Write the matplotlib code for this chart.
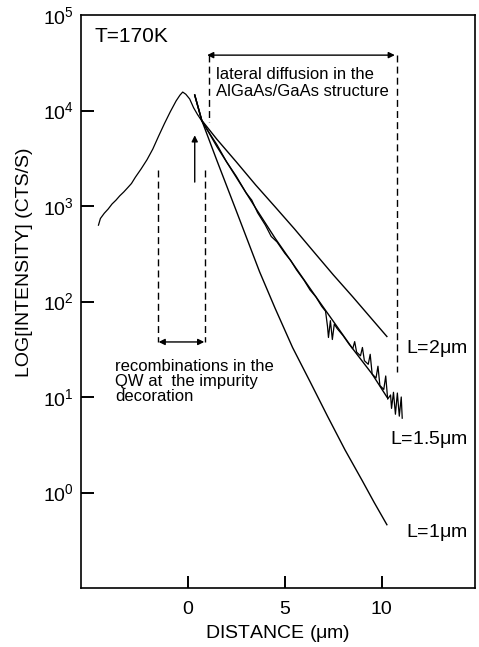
""" plot.py - PL intensity vs distance, T=170K """

import numpy as np
import matplotlib
matplotlib.use("Agg")
import matplotlib.pyplot as plt
import matplotlib.transforms as mtransforms
from matplotlib.ticker import FixedLocator, NullLocator, FixedFormatter

plt.rcParams['font.family'] = ['Liberation Sans', 'DejaVu Sans']

# measured profile (distance in um, intensity in counts/s)
x_meas = [-4.6, -4.5, -4.3, -4.1, -3.9, -3.7, -3.5, -3.3, -3.1, -2.9, -2.7, -2.4,
          -2.1, -1.8, -1.5, -1.2, -0.9, -0.6, -0.4, -0.26, -0.1, 0.1, 0.3, 0.5,
          0.7, 1.0, 1.5, 2.0, 2.5, 3.0, 3.3, 3.6, 4.0, 4.3, 4.6, 5.0, 5.3, 5.6,
          6.0, 6.3, 6.6, 6.9, 7.1, 7.2, 7.25, 7.35, 7.45, 7.55, 7.7, 8.0, 8.3,
          8.5, 8.6, 8.7, 8.9, 9.0, 9.1, 9.3, 9.4, 9.5, 9.7, 9.8, 9.9, 10.1,
          10.2, 10.3, 10.45, 10.5, 10.6, 10.7, 10.8, 10.9, 11.0, 11.05]
y_meas = [6.3e2, 7.4e2, 8.4e2, 9.3e2, 1.05e3, 1.15e3, 1.28e3, 1.4e3, 1.55e3, 1.72e3,
          2.0e3, 2.45e3, 3.05e3, 3.95e3, 5.4e3, 7.3e3, 9.7e3, 1.26e4, 1.45e4, 1.56e4,
          1.48e4, 1.32e4, 1.07e4, 9.1e3, 7.9e3, 6.3e3, 4.4e3, 2.9e3, 2.05e3, 1.38e3,
          1.15e3, 8.5e2, 6.3e2, 4.8e2, 4.2e2, 3.2e2, 2.7e2, 2.15e2, 1.66e2, 1.32e2,
          1.12e2, 8.9e1, 7.9e1, 5.5e1, 4.2e1, 6.3e1, 4.0e1, 5.8e1, 5.2e1, 4.4e1,
          3.6e1, 3.2e1, 3.8e1, 2.95e1, 2.7e1, 3.3e1, 2.4e1, 2.2e1, 2.8e1, 1.74e1,
          1.58e1, 2.1e1, 1.32e1, 1.2e1, 1.66e1, 9.5e0, 1.05e1, 7.6e0, 1.12e1,
          6.6e0, 1.1e1, 6.3e0, 1.0e1, 6.0e0]

# calculated diffusion profiles
x_L2 = [0.36, 0.72, 1.5, 2.5, 3.5, 4.5, 5.5, 6.5, 7.5, 8.5, 9.5, 10.26]
y_L2 = [1.45e4, 7.9e3, 5.0e3, 2.9e3, 1.66e3, 9.8e2, 5.75e2, 3.3e2, 1.9e2, 1.12e2,
        6.5e1, 4.3e1]

x_L15 = [0.36, 0.72, 1.5, 2.5, 3.5, 4.5, 5.5, 6.5, 7.5, 8.5, 9.5, 10.26]
y_L15 = [1.45e4, 7.9e3, 4.2e3, 2.0e3, 9.5e2, 4.6e2, 2.35e2, 1.2e2, 6.2e1, 3.2e1,
         1.74e1, 1.0e1]

x_L1 = [0.36, 0.72, 1.5, 2.5, 3.7, 4.5, 5.4, 6.3, 7.2, 8.1, 9.0, 9.6, 10.26]
y_L1 = [1.45e4, 7.9e3, 3.0e3, 8.9e2, 2.05e2, 8.5e1, 3.3e1, 1.45e1, 6.3e0, 2.8e0,
        1.32e0, 7.9e-1, 4.6e-1]

y_ticks = [1e0, 1e1, 1e2, 1e3, 1e4, 1e5]
y_ticklabels = [r'$\mathregular{10^{%d}}$' % int(np.log10(v)) for v in y_ticks]
x_ticks = [0, 5, 10]

fig = plt.figure(figsize=(4.79, 6.47), dpi=100)
ax = fig.add_axes([81 / 479, 59 / 647, 394 / 479, 573 / 647])

lw = 1.0
ax.plot(x_meas, y_meas, color='k', lw=0.9)
ax.plot(x_L2, y_L2, color='k', lw=lw)
ax.plot(x_L15, y_L15, color='k', lw=lw)
ax.plot(x_L1, y_L1, color='k', lw=lw)

ax.set_yscale('log')
ax.set_xlim(-5.5, 14.8)
ax.set_ylim(1e-1, 1e5)

ax.yaxis.set_major_locator(FixedLocator(y_ticks))
ax.yaxis.set_major_formatter(FixedFormatter(y_ticklabels))
ax.yaxis.set_minor_locator(NullLocator())
ax.xaxis.set_major_locator(FixedLocator(x_ticks))
ax.xaxis.set_major_formatter(FixedFormatter([str(v) for v in x_ticks]))
ax.tick_params(axis='y', direction='in', length=0, labelsize=14,
               pad=5, right=False)
ax.tick_params(axis='x', direction='in', length=0, labelsize=14,
               pad=9, top=False)
for s in ax.spines.values():
    s.set_linewidth(1.2)

# inward tick marks
ytrans = mtransforms.blended_transform_factory(ax.transAxes, ax.transData)
xtrans = mtransforms.blended_transform_factory(ax.transData, ax.transAxes)
for v in y_ticks[:-1]:
    ax.plot([0, 0.032], [v, v], color='k', lw=1.4, transform=ytrans,
            clip_on=False, solid_capstyle='butt')
for v in x_ticks:
    ax.plot([v, v], [0, 0.021], color='k', lw=1.4, transform=xtrans,
            clip_on=False, solid_capstyle='butt')

ax.set_xlabel(r'DISTANCE ($\mathregular{\mu}$m)', fontsize=14, labelpad=4)
fig.text(25 / 479, 1 - 262 / 647, 'LOG[INTENSITY] (CTS/S)', rotation=90,
         fontsize=14, ha='center', va='center')

# annotations
dash = (0, (5, 3))
ax.text(-4.8, 5.9e4, 'T=170K', fontsize=15, va='center')

# lateral diffusion bracket
ax.plot([1.08, 1.08], [3.8e4, 7.6e3], color='k', lw=1, ls=dash)
ax.plot([10.77, 10.77], [3.8e4, 18.3], color='k', lw=1, ls=dash)
ax.annotate('', xy=(10.67, 3.8e4), xytext=(1.0, 3.8e4),
            arrowprops=dict(arrowstyle='<|-|>', lw=1, color='k',
                            mutation_scale=9, shrinkA=0, shrinkB=0))
ax.text(1.45, 1.95e4, 'lateral diffusion in the\nAlGaAs/GaAs structure',
        fontsize=12, va='center', linespacing=1.2)

# recombination bracket
ax.plot([-1.55, -1.55], [2.4e3, 37.7], color='k', lw=1, ls=dash)
ax.plot([0.88, 0.88], [2.4e3, 37.7], color='k', lw=1, ls=dash)
ax.annotate('', xy=(0.85, 37.7), xytext=(-1.5, 37.7),
            arrowprops=dict(arrowstyle='<|-|>', lw=1, color='k',
                            mutation_scale=9, shrinkA=0, shrinkB=0))
ax.text(-3.75, 25, 'recombinations in the\nQW at  the impurity\ndecoration',
        fontsize=12, va='top', linespacing=1.0)

# up arrow
ax.annotate('', xy=(0.36, 5.5e3), xytext=(0.36, 1.78e3),
            arrowprops=dict(arrowstyle='-|>', lw=1, color='k',
                            mutation_scale=9, shrinkA=0, shrinkB=0))

ax.text(14.4, 32, r'L=2$\mathregular{\mu}$m', fontsize=14, ha='right', va='center')
ax.text(14.4, 3.6, r'L=1.5$\mathregular{\mu}$m', fontsize=14, ha='right', va='center')
ax.text(14.4, 0.38, r'L=1$\mathregular{\mu}$m', fontsize=14, ha='right', va='center')

fig.savefig('out.png', dpi=100)
